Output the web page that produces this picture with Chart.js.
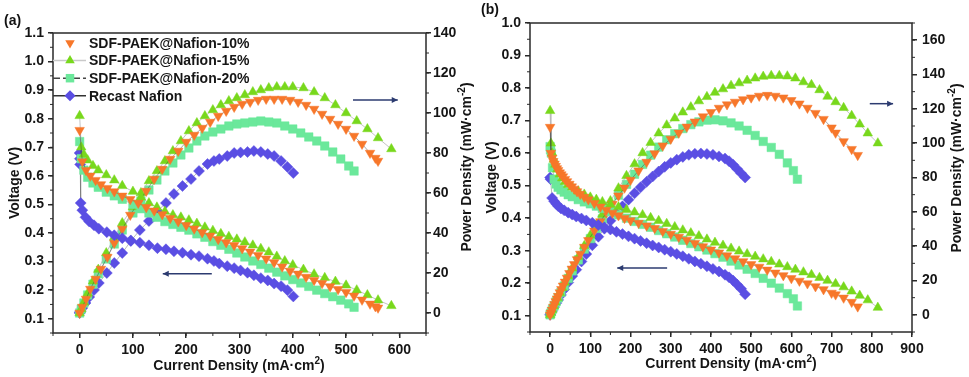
<!DOCTYPE html>
<html>
<head>
<meta charset="utf-8">
<script src="https://cdn.jsdelivr.net/npm/chart.js@4.4.1/dist/chart.umd.min.js"></script>
<style>
body { margin: 0; background: #fff; width: 969px; height: 377px; overflow: hidden; position: relative; }
#wa { position: absolute; left: 0; top: 0; width: 480px; height: 377px; }
#wb { position: absolute; left: 480px; top: 0; width: 489px; height: 377px; }
.tag { position: absolute; font: bold 14px "Liberation Sans", Arial, sans-serif; color: #111; }
</style>
</head>
<body>
<div id="wa"><canvas id="ca" width="480" height="377"></canvas></div>
<div id="wb"><canvas id="cb" width="489" height="377"></canvas></div>
<div class="tag" style="left:4px;top:12px">(a)</div>
<div class="tag" style="left:481px;top:1px">(b)</div>
<script>
const SERIES = ['SDF-PAEK@Nafion-10%', 'SDF-PAEK@Nafion-15%', 'SDF-PAEK@Nafion-20%', 'Recast Nafion'];

// ---- panel (a) ----
const curA10 = [0, 5, 12, 20, 30, 40, 52, 65, 80, 95, 110, 125, 140, 155, 170, 185, 200, 215, 230, 245, 260, 275, 290, 305, 320, 335, 350, 365, 380, 395, 410, 425, 440, 455, 470, 485, 500, 515, 530, 545, 555, 560];
const voltA10 = [0.76, 0.65, 0.62, 0.6, 0.585, 0.57, 0.557, 0.545, 0.53, 0.518, 0.505, 0.49, 0.478, 0.465, 0.452, 0.44, 0.427, 0.415, 0.402, 0.39, 0.378, 0.367, 0.357, 0.346, 0.334, 0.322, 0.31, 0.297, 0.282, 0.267, 0.257, 0.246, 0.235, 0.224, 0.213, 0.203, 0.193, 0.18, 0.166, 0.152, 0.143, 0.138];
const powA10 = [0, 3, 7, 12, 17, 22, 28, 35, 42, 49, 55, 61, 67, 72, 77, 81, 85.5, 89, 92.5, 95.5, 98.5, 101, 103, 104.5, 105.5, 106.5, 107, 107, 107, 106.5, 105.5, 104, 102, 99.5, 97, 94.5, 92, 88.5, 84.5, 80, 77.5, 76];

const curA15 = [0, 3, 8, 15, 25, 35, 50, 65, 80, 100, 115, 130, 145, 160, 175, 190, 205, 220, 235, 250, 265, 280, 295, 310, 325, 340, 355, 370, 385, 400, 420, 440, 460, 480, 500, 520, 540, 560, 585];
const voltA15 = [0.81, 0.7, 0.675, 0.655, 0.635, 0.62, 0.603, 0.585, 0.565, 0.545, 0.525, 0.505, 0.49, 0.475, 0.463, 0.455, 0.445, 0.433, 0.42, 0.408, 0.397, 0.387, 0.378, 0.368, 0.357, 0.345, 0.333, 0.318, 0.302, 0.288, 0.272, 0.256, 0.243, 0.23, 0.217, 0.2, 0.183, 0.165, 0.145];
const powA15 = [0, 2, 5.4, 9.8, 15.9, 21.7, 30, 38, 45, 53, 60, 66, 71, 76, 81, 86, 91, 95, 98.5, 101.5, 104, 106, 107.5, 109, 110.5, 111.5, 112.5, 113, 113, 113, 112.5, 110.5, 107.5, 104, 100, 96, 92, 87.5, 82];

const curA20 = [0, 3, 8, 15, 25, 35, 50, 65, 80, 100, 115, 130, 145, 160, 175, 190, 205, 220, 235, 250, 265, 280, 295, 310, 325, 340, 355, 370, 385, 400, 415, 430, 445, 460, 475, 490, 505, 515];
const voltA20 = [0.72, 0.66, 0.62, 0.595, 0.575, 0.56, 0.543, 0.53, 0.518, 0.5, 0.485, 0.47, 0.455, 0.44, 0.43, 0.42, 0.41, 0.397, 0.385, 0.37, 0.357, 0.343, 0.33, 0.316, 0.302, 0.29, 0.277, 0.263, 0.25, 0.237, 0.225, 0.213, 0.2, 0.188, 0.177, 0.165, 0.152, 0.14];
const powA20 = [0, 2, 5, 9, 14.4, 19.6, 27, 34.5, 41.5, 50, 56, 61.5, 66.5, 71, 75, 79, 82.5, 86, 88.5, 90.5, 92, 93.5, 94.5, 95, 95.5, 96, 95.5, 95, 93.5, 92, 90, 88, 86, 83.5, 80.5, 77, 73.5, 71];

const curARec = [0, 0.5, 1, 2, 5, 11, 18, 27, 36, 51, 65, 80, 96, 113, 130, 146, 162, 177, 193, 209, 224, 240, 252, 262, 277, 290, 302, 315, 327, 340, 353, 365, 378, 390, 401];
const voltARec = [0.68, 0.66, 0.64, 0.505, 0.48, 0.455, 0.44, 0.427, 0.415, 0.403, 0.392, 0.382, 0.374, 0.366, 0.357, 0.347, 0.343, 0.336, 0.331, 0.324, 0.319, 0.31, 0.302, 0.293, 0.284, 0.277, 0.269, 0.261, 0.252, 0.242, 0.234, 0.223, 0.214, 0.2, 0.178];
const powARec = [0, 0.3, 0.6, 1, 2.5, 5, 8, 11.5, 15, 20, 25, 30, 36, 41.5, 46, 51, 55, 59.5, 63.5, 67, 71, 74.5, 76, 77, 78.5, 80, 80.3, 80.5, 81, 80.5, 79.5, 78.5, 76, 73, 70];

// ---- panel (b) ----
const curB10 = [0, 2, 5, 8, 11, 14, 17, 20, 24, 28, 32, 37, 42, 48, 54, 60, 67, 75, 85, 95, 110, 125, 140, 155, 170, 185, 200, 220, 240, 260, 280, 300, 320, 340, 360, 380, 400, 420, 440, 460, 480, 500, 520, 540, 560, 580, 600, 620, 640, 660, 680, 700, 710, 730, 750, 765];
const voltB10 = [0.68, 0.6, 0.585, 0.575, 0.567, 0.56, 0.553, 0.547, 0.54, 0.534, 0.528, 0.52, 0.513, 0.505, 0.497, 0.49, 0.482, 0.474, 0.465, 0.457, 0.446, 0.435, 0.425, 0.416, 0.408, 0.4, 0.393, 0.385, 0.377, 0.369, 0.36, 0.351, 0.342, 0.333, 0.323, 0.313, 0.303, 0.294, 0.285, 0.276, 0.267, 0.258, 0.25, 0.241, 0.232, 0.224, 0.215, 0.207, 0.199, 0.19, 0.181, 0.17, 0.165, 0.155, 0.142, 0.128];
const powB10 = [0, 1.2, 2.9, 4.6, 6.2, 7.8, 9.4, 10.9, 13, 14.9, 16.9, 19.2, 21.5, 24.2, 26.8, 29.4, 32.3, 35.5, 39.5, 43.4, 49, 54.4, 59.5, 64.5, 69.4, 74, 78.5, 84, 89, 94, 98.5, 102.5, 106, 109.5, 112.5, 115.5, 118, 120.5, 122.5, 124, 125.5, 126.5, 127.5, 128, 127.5, 126.5, 125, 123, 120.5, 117.5, 114, 109, 106, 101, 96.5, 93];

const curB15 = [0, 2, 5, 9, 13, 18, 24, 30, 37, 45, 55, 70, 85, 100, 115, 130, 150, 170, 190, 210, 230, 250, 270, 290, 310, 330, 350, 370, 390, 410, 430, 450, 470, 490, 510, 530, 550, 570, 590, 610, 630, 650, 670, 690, 710, 730, 750, 770, 790, 815];
const voltB15 = [0.73, 0.63, 0.6, 0.58, 0.565, 0.55, 0.535, 0.523, 0.512, 0.503, 0.495, 0.483, 0.473, 0.464, 0.457, 0.45, 0.442, 0.434, 0.426, 0.418, 0.41, 0.401, 0.392, 0.383, 0.373, 0.363, 0.354, 0.345, 0.335, 0.325, 0.316, 0.307, 0.298, 0.29, 0.282, 0.274, 0.266, 0.258, 0.25, 0.242, 0.234, 0.226, 0.217, 0.208, 0.198, 0.188, 0.175, 0.162, 0.148, 0.125];
const powB15 = [0, 1.3, 3, 5.2, 7.3, 9.9, 12.8, 15.7, 18.9, 22.6, 27.2, 33.8, 40.2, 46.4, 52.5, 58.5, 66.3, 73.8, 81, 87.8, 94.3, 100.3, 105.8, 110.5, 114.5, 118, 121, 124.5, 127, 129.5, 131.5, 133.5, 135, 136.5, 137.8, 138.8, 139.3, 139.3, 139, 137.8, 135.6, 134, 131, 127.2, 124, 120.6, 116, 111, 105.8, 100];

const curB20 = [0, 1, 3, 6, 10, 15, 20, 27, 35, 45, 55, 70, 85, 100, 115, 130, 150, 170, 190, 210, 230, 250, 270, 290, 310, 330, 350, 370, 390, 410, 430, 450, 470, 490, 510, 530, 550, 570, 590, 605, 615];
const voltB20 = [0.62, 0.61, 0.6, 0.555, 0.52, 0.505, 0.495, 0.487, 0.48, 0.472, 0.466, 0.457, 0.45, 0.444, 0.437, 0.43, 0.42, 0.41, 0.4, 0.39, 0.381, 0.372, 0.362, 0.352, 0.342, 0.332, 0.322, 0.312, 0.302, 0.291, 0.28, 0.268, 0.256, 0.243, 0.23, 0.215, 0.2, 0.185, 0.168, 0.152, 0.13];
const powB20 = [0, 0.6, 1.8, 3.3, 5.2, 7.6, 9.9, 13.1, 16.8, 21.2, 25.6, 32, 38.3, 44.4, 50.3, 55.9, 63, 69.7, 76, 81.9, 87.6, 93, 97.7, 102, 105.5, 108.5, 110.8, 112.4, 113.4, 113.6, 113, 111.8, 110, 107.5, 104.5, 101, 97.5, 93.5, 88.5, 84, 79];

const curBRec = [0, 1, 5, 10, 15, 20, 27, 35, 45, 55, 65, 78, 90, 105, 120, 135, 150, 165, 180, 195, 210, 225, 240, 255, 270, 285, 300, 315, 330, 345, 360, 375, 390, 405, 420, 435, 445, 455, 465, 475, 485];
const voltBRec = [0.525, 0.52, 0.462, 0.452, 0.444, 0.437, 0.43, 0.424, 0.417, 0.411, 0.405, 0.399, 0.393, 0.386, 0.379, 0.372, 0.365, 0.358, 0.351, 0.344, 0.337, 0.33, 0.323, 0.316, 0.31, 0.303, 0.297, 0.29, 0.283, 0.275, 0.267, 0.26, 0.252, 0.244, 0.236, 0.226, 0.218, 0.208, 0.196, 0.183, 0.166];
const powBRec = [0, 0.5, 2.3, 4.5, 6.7, 8.7, 11.6, 14.8, 18.8, 22.6, 26.3, 31.1, 35.4, 40.5, 45.5, 50.2, 54.8, 59.1, 63.2, 67.1, 70.8, 74.3, 77.5, 80.6, 83.5, 86.2, 88.5, 90.4, 92, 93.2, 93.8, 94, 93.7, 93.2, 92.3, 91, 89.5, 87.5, 85, 82.5, 80];

// tick labels
const curTicksA = [0, 100, 200, 300, 400, 500, 600];
const voltTicksA = [0.1, 0.2, 0.3, 0.4, 0.5, 0.6, 0.7, 0.8, 0.9, 1.0, 1.1];
const powTicksA = [0, 20, 40, 60, 80, 100, 120, 140];
const curTicksB = [0, 100, 200, 300, 400, 500, 600, 700, 800, 900];
const voltTicksB = [0.1, 0.2, 0.3, 0.4, 0.5, 0.6, 0.7, 0.8, 0.9, 1.0];
const powTicksB = [0, 20, 40, 60, 80, 100, 120, 140, 160];

const COLORS = ['#f7772a', '#78d81c', '#6be89b', '#5a4ee3'];
const SHAPES = ['triangle', 'triangle', 'rect', 'rectRot'];
const ROTS = [180, 0, 0, 0];
const RADII = [5.5, 5.5, 6, 5.5];
const LINK = ['rgba(60,60,60,0.45)', 'rgba(180,180,180,0.8)', 'rgba(60,60,60,0.35)', 'rgba(60,60,60,0.35)'];
const FONT = '"Liberation Sans", Arial, sans-serif';
const INK = '#151515';

function zip(xs, ys) {
    return xs.map((x, i) => ({ x: x, y: ys[i] }));
}

function dataset(i, xs, ys, axis) {
    return {
        label: SERIES[i],
        yAxisID: axis,
        data: zip(xs, ys),
        showLine: true,
        borderColor: LINK[i],
        borderWidth: 1,
        fill: false,
        tension: 0,
        pointStyle: SHAPES[i],
        pointRotation: ROTS[i],
        pointRadius: RADII[i],
        pointBackgroundColor: COLORS[i],
        pointBorderColor: COLORS[i],
        pointBorderWidth: 0.5,
        backgroundColor: COLORS[i]
    };
}

function drawMarker(ctx, i, x, y) {
    const r = RADII[i];
    ctx.fillStyle = COLORS[i];
    ctx.beginPath();
    if (i === 0) {
        ctx.moveTo(x, y + r); ctx.lineTo(x - r * 0.866, y - r / 2); ctx.lineTo(x + r * 0.866, y - r / 2);
    } else if (i === 1) {
        ctx.moveTo(x, y - r); ctx.lineTo(x - r * 0.866, y + r / 2); ctx.lineTo(x + r * 0.866, y + r / 2);
    } else if (i === 2) {
        const s = r * 0.707;
        ctx.rect(x - s, y - s, 2 * s, 2 * s);
    } else {
        ctx.moveTo(x, y - r); ctx.lineTo(x + r, y); ctx.lineTo(x, y + r); ctx.lineTo(x - r, y);
    }
    ctx.closePath();
    ctx.fill();
}

function minorTicks(ctx, scale, step, side, a) {
    const n0 = Math.ceil(scale.min / step - 1e-6);
    const n1 = Math.floor(scale.max / step + 1e-6);
    for (let n = n0; n <= n1; n++) {
        const p = scale.getPixelForValue(n * step);
        ctx.beginPath();
        if (side === 'bottom') { ctx.moveTo(p, a.bottom); ctx.lineTo(p, a.bottom + 3); }
        else if (side === 'left') { ctx.moveTo(a.left, p); ctx.lineTo(a.left - 3, p); }
        else { ctx.moveTo(a.right, p); ctx.lineTo(a.right + 3, p); }
        ctx.stroke();
    }
}

function arrow(ctx, chart, ar) {
    const xs = chart.scales.x, ys = chart.scales[ar.axis];
    const x1 = xs.getPixelForValue(ar.from), x2 = xs.getPixelForValue(ar.to);
    const y = ys.getPixelForValue(ar.at);
    ctx.strokeStyle = '#2c3b70';
    ctx.fillStyle = '#2c3b70';
    ctx.lineWidth = 1.5;
    ctx.beginPath(); ctx.moveTo(x1, y); ctx.lineTo(x2, y); ctx.stroke();
    const tip = ar.head === 'right' ? x2 : x1;
    const d = ar.head === 'right' ? -1 : 1;
    ctx.beginPath();
    ctx.moveTo(tip, y); ctx.lineTo(tip + d * 6, y - 3); ctx.lineTo(tip + d * 6, y + 3);
    ctx.closePath(); ctx.fill();
}

// text with a raised small part: [main, sup, tail]
function supText(ctx, parts, cx, cy, rot) {
    ctx.save();
    ctx.translate(cx, cy);
    if (rot) ctx.rotate(rot);
    const big = 'bold 14px ' + FONT, small = 'bold 10px ' + FONT;
    ctx.font = big;
    const w1 = ctx.measureText(parts[0]).width, w3 = ctx.measureText(parts[2]).width;
    ctx.font = small;
    const w2 = ctx.measureText(parts[1]).width;
    let x = -(w1 + w2 + w3) / 2;
    ctx.fillStyle = INK;
    ctx.textBaseline = 'middle';
    ctx.textAlign = 'left';
    ctx.font = big; ctx.fillText(parts[0], x, 0); x += w1;
    ctx.font = small; ctx.fillText(parts[1], x, -5); x += w2;
    ctx.font = big; ctx.fillText(parts[2], x, 0);
    ctx.restore();
}

const framePlugin = {
    id: 'frame',
    afterDraw(chart, args, opts) {
        const ctx = chart.ctx, a = chart.chartArea;
        ctx.save();
        ctx.strokeStyle = '#2a2a2a';
        ctx.lineWidth = 1.5;
        ctx.strokeRect(a.left, a.top, a.right - a.left, a.bottom - a.top);
        ctx.lineWidth = 1;
        minorTicks(ctx, chart.scales.x, opts.xMinor, 'bottom', a);
        minorTicks(ctx, chart.scales.y, opts.yMinor, 'left', a);
        minorTicks(ctx, chart.scales.y2, opts.y2Minor, 'right', a);
        opts.arrows.forEach(ar => arrow(ctx, chart, ar));
        // axis titles with superscripts
        supText(ctx, ['Current Density (mA·cm', '2', ')'], opts.xTitle[0], opts.xTitle[1], 0);
        supText(ctx, ['Power Density (mW·cm', '-2', ')'], opts.y2Title[0], opts.y2Title[1], -Math.PI / 2);
        // legend inside the plot
        const lg = opts.legend;
        ctx.font = 'bold 14px ' + FONT;
        ctx.textBaseline = 'middle';
        for (let i = 0; i < 4; i++) {
            const y = lg.y0 + i * lg.dy;
            const ln = lg.lines[i];
            if (ln) {
                ctx.strokeStyle = ln.color;
                ctx.lineWidth = 1.5;
                ctx.setLineDash(ln.dash || []);
                ctx.beginPath(); ctx.moveTo(lg.x0, y); ctx.lineTo(lg.x1, y); ctx.stroke();
                ctx.setLineDash([]);
            }
            drawMarker(ctx, i, lg.mx, y);
            ctx.fillStyle = INK;
            ctx.fillText(SERIES[i], lg.tx, y + 1);
        }
        ctx.restore();
    }
};

function makePanel(id, p) {
    const datasets = [];
    for (let i = 0; i < 4; i++) datasets.push(dataset(i, p.cur[i], p.volt[i], 'y'));
    for (let i = 0; i < 4; i++) datasets.push(dataset(i, p.cur[i], p.pow[i], 'y2'));
    const tickFont = { family: FONT, size: 14, weight: 'bold' };
    const grid = { display: true, drawOnChartArea: false, drawTicks: true, tickLength: 5, color: '#2a2a2a', lineWidth: 1.5 };
    new Chart(document.getElementById(id), {
        type: 'line',
        data: { datasets: datasets },
        options: {
            responsive: false,
            animation: false,
            layout: { padding: { top: p.top, left: 0, right: 0, bottom: 0 } },
            plugins: {
                legend: { display: false },
                tooltip: { enabled: false },
                frame: p.frame
            },
            scales: {
                x: {
                    type: 'linear', min: p.xMin, max: p.xMax,
                    afterFit: s => { s.height = p.xH; },
                    afterBuildTicks: s => { s.ticks = p.xTicks.map(v => ({ value: v })); },
                    ticks: { font: tickFont, color: INK, padding: 4, maxRotation: 0, callback: v => String(v) },
                    grid: grid, border: { display: false },
                    title: { display: false }
                },
                y: {
                    type: 'linear', position: 'left', min: p.yMin, max: p.yMax,
                    afterFit: s => { s.width = p.yW; },
                    afterBuildTicks: s => { s.ticks = p.yTicks.map(v => ({ value: v })); },
                    ticks: { font: tickFont, color: INK, padding: 4, callback: v => v.toFixed(1) },
                    grid: grid, border: { display: false },
                    title: { display: true, text: 'Voltage (V)', color: INK, font: tickFont, padding: { top: p.ytPad, bottom: 0 } }
                },
                y2: {
                    type: 'linear', position: 'right', min: p.y2Min, max: p.y2Max,
                    afterFit: s => { s.width = p.y2W; },
                    afterBuildTicks: s => { s.ticks = p.y2Ticks.map(v => ({ value: v })); },
                    ticks: { font: tickFont, color: INK, padding: p.y2Pad, callback: v => String(v) },
                    grid: grid, border: { display: false },
                    title: { display: false }
                }
            }
        },
        plugins: [framePlugin]
    });
}

makePanel('ca', {
    cur: [curA10, curA15, curA20, curARec],
    volt: [voltA10, voltA15, voltA20, voltARec],
    pow: [powA10, powA15, powA20, powARec],
    xTicks: curTicksA, yTicks: voltTicksA, y2Ticks: powTicksA,
    xMin: -50, xMax: 650, yMin: 0.05, yMax: 1.1, y2Min: -10, y2Max: 140,
    top: 33, xH: 44, yW: 53, y2W: 54, y2Pad: 2,
    ytPad: 6.6,
    frame: {
        xMinor: 50, yMinor: 0.05, y2Minor: 10,
        xTitle: [239, 366], y2Title: [467, 167],
        arrows: [
            { axis: 'y2', at: 106.5, from: 513, to: 597, head: 'right' },
            { axis: 'y', at: 0.2575, from: 156, to: 248, head: 'left' }
        ],
        legend: {
            y0: 43, dy: 17.6, x0: 53, x1: 86, mx: 70, tx: 89,
            lines: [null, { color: '#c9c9c9' }, { color: '#444', dash: [7, 3] }, { color: '#333' }]
        }
    }
});

makePanel('cb', {
    cur: [curB10, curB15, curB20, curBRec],
    volt: [voltB10, voltB15, voltB20, voltBRec],
    pow: [powB10, powB15, powB20, powBRec],
    xTicks: curTicksB, yTicks: voltTicksB, y2Ticks: powTicksB,
    xMin: -50, xMax: 900, yMin: 0.05, yMax: 1.0, y2Min: -10, y2Max: 170,
    top: 23, xH: 45, yW: 50, y2W: 57, y2Pad: 5,
    ytPad: 3.3,
    frame: {
        xMinor: 50, yMinor: 0.05, y2Minor: 10,
        xTitle: [251, 364], y2Title: [477, 168],
        arrows: [
            { axis: 'y2', at: 123, from: 795, to: 853, head: 'right' },
            { axis: 'y', at: 0.247, from: 167, to: 291, head: 'left' }
        ],
        legend: {
            y0: 33, dy: 16.4, x0: 535, x1: 564, mx: 549, tx: 567,
            lines: [{ color: '#333' }, { color: '#c9c9c9' }, null, null]
        }
    }
});
</script>
</body>
</html>
